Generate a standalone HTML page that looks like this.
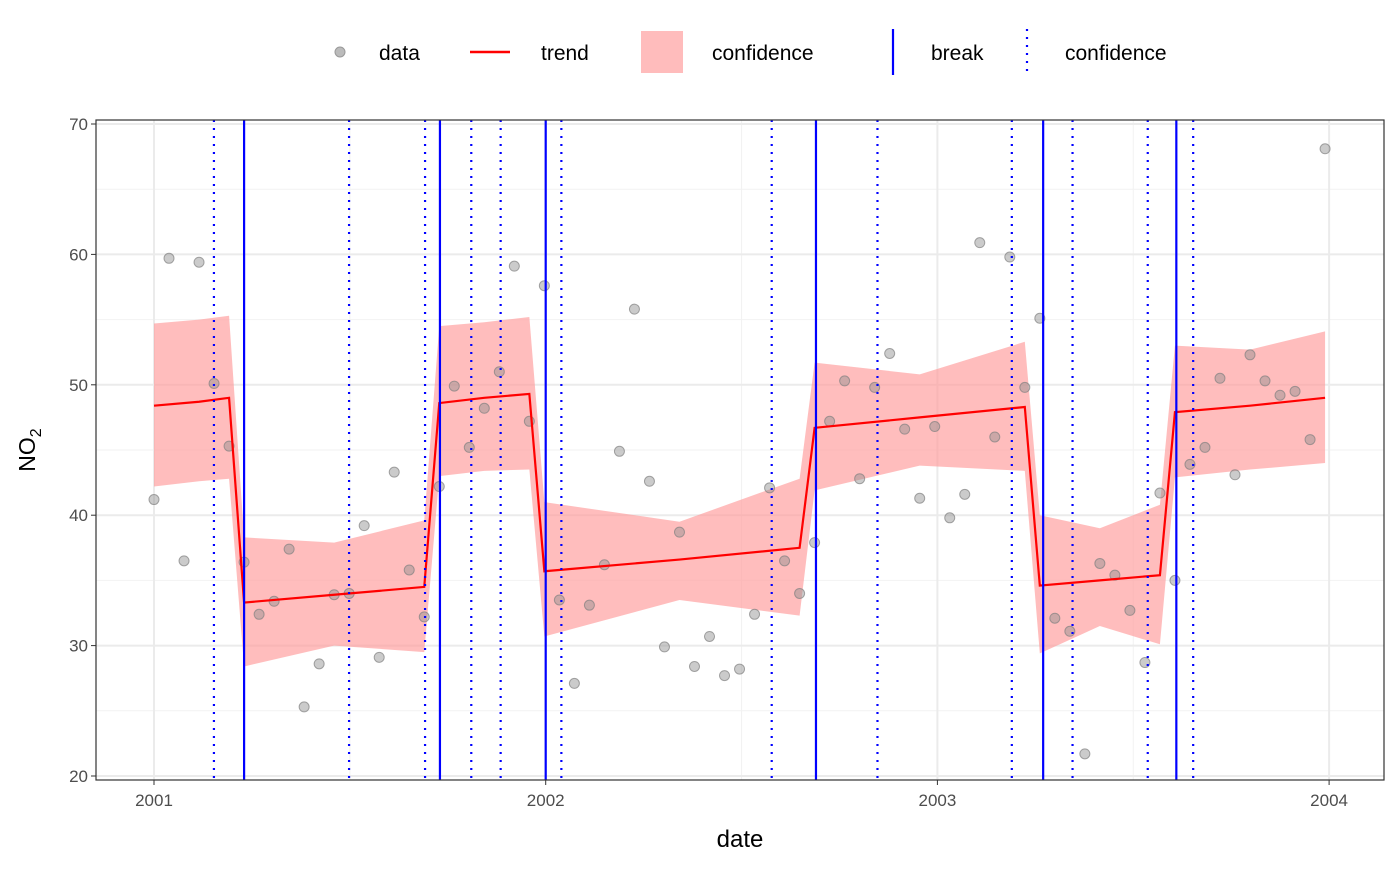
<!DOCTYPE html>
<html><head><meta charset="utf-8"><style>
body{margin:0;background:#fff;font-family:"Liberation Sans",Arial,sans-serif;}
svg text{font-family:"Liberation Sans",Arial,sans-serif;}
</style></head><body>
<svg id="chart" width="1400" height="866" xmlns="http://www.w3.org/2000/svg">
<g>
 <circle cx="340" cy="52" r="5" fill="#bbb" stroke="#999"/>
 <text x="379" y="60" font-size="21">data</text>
 <line x1="470" y1="52" x2="510" y2="52" stroke="red" stroke-width="2.5"/>
 <text x="541" y="60" font-size="21">trend</text>
 <rect x="641" y="31" width="42" height="42" fill="#ffbcbc"/>
 <text x="712" y="60" font-size="21">confidence</text>
 <line x1="893" y1="29" x2="893" y2="75" stroke="blue" stroke-width="2.2"/>
 <text x="931" y="60" font-size="21">break</text>
 <line x1="1027" y1="29" x2="1027" y2="75" stroke="blue" stroke-width="2.2" stroke-dasharray="2,6"/>
 <text x="1065" y="60" font-size="21">confidence</text>
</g>
<g id="plot"></g>
<text x="0" y="0" font-size="23" transform="translate(35,450) rotate(-90)" text-anchor="middle">NO<tspan font-size="16" dy="6">2</tspan></text>
<text x="740" y="847" font-size="24" text-anchor="middle">date</text>
</svg>
<script>
const values=[41.2,59.7,36.5,59.4,50.1,45.3,36.4,32.4,33.4,37.4,25.3,28.6,33.9,34.0,39.2,29.1,43.3,35.8,32.2,42.2,49.9,45.2,48.2,51.0,59.1,47.2,57.6,33.5,27.1,33.1,36.2,44.9,55.8,42.6,29.9,38.7,28.4,30.7,27.7,28.2,32.4,42.1,36.5,34.0,37.9,47.2,50.3,42.8,49.8,52.4,46.6,41.3,46.8,39.8,41.6,60.9,46.0,59.8,49.8,55.1,32.1,31.1,21.7,36.3,35.4,32.7,28.7,41.7,35.0,43.9,45.2,50.5,43.1,52.3,50.3,49.2,49.5,45.8,68.1];
const bandIdx=[0,3,5,6,12,18,19,22,25,26,35,43,44,51,58,59,63,67,68,73,78];
const trend=[48.4,48.7,49.0,33.3,33.9,34.5,48.6,49.0,49.3,35.7,36.6,37.5,46.7,47.5,48.3,34.6,35.0,35.4,47.9,48.4,49.0];
const upper=[54.7,55.0,55.3,38.3,37.9,39.6,54.5,54.8,55.2,41.0,39.5,42.8,51.7,50.8,53.3,40.0,39.0,40.8,53.0,52.7,54.1];
const lower=[42.2,42.6,42.8,28.4,30.0,29.5,43.0,43.4,43.5,30.7,33.5,32.3,41.9,43.8,43.4,29.4,31.5,30.1,42.9,43.5,44.0];
const breaks=[2001.23,2001.73,2002.0,2002.69,2003.27,2003.61];
const breakCI=[2001.153,2001.498,2001.692,2001.81,2001.885,2002.04,2002.577,2002.847,2003.19,2003.345,2003.537,2003.653];
const yTicks=[20,30,40,50,60,70];
const xTicks=[2001,2002,2003,2004];
const L=96,R=1384,T=120,B=780;
const X=yr=>154+(yr-2001)*391.7;
const XI=i=>X(2001+i*14/365.25);
const Y=v=>776-(v-20)*13.04;
const ns="http://www.w3.org/2000/svg",g=document.getElementById('plot');
function mk(t,a){const e=document.createElementNS(ns,t);for(const k in a)e.setAttribute(k,a[k]);g.appendChild(e);return e;}
let e=mk('rect',{x:L,y:T,width:R-L,height:B-T,fill:'#fff'});

for(let v=25;v<=65;v+=10){e=mk('line',{x1:L,x2:R,y1:Y(v),y2:Y(v),stroke:'#f2f2f2','stroke-width':1});
}
for(let yr=2001.5;yr<2004;yr+=1){e=mk('line',{x1:X(yr),x2:X(yr),y1:T,y2:B,stroke:'#f2f2f2','stroke-width':1});
}
yTicks.forEach(v=>{e=mk('line',{x1:L,x2:R,y1:Y(v),y2:Y(v),stroke:'#ebebeb','stroke-width':2});

e=mk('line',{x1:L-5,x2:L,y1:Y(v),y2:Y(v),stroke:'#333'});

e=mk('text',{x:L-8,y:Y(v)+6,'font-size':17,fill:'#4d4d4d','text-anchor':'end'});e.textContent=v;
});
xTicks.forEach(v=>{e=mk('line',{x1:X(v),x2:X(v),y1:T,y2:B,stroke:'#ebebeb','stroke-width':2});

e=mk('line',{x1:X(v),x2:X(v),y1:B,y2:B+5,stroke:'#333'});

e=mk('text',{x:X(v),y:B+26,'font-size':17,fill:'#4d4d4d','text-anchor':'middle'});e.textContent=v;
});
let pts=bandIdx.map((i,k)=>XI(i)+','+Y(upper[k]));
for(let k=bandIdx.length-1;k>=0;k--)pts.push(XI(bandIdx[k])+','+Y(lower[k]));
e=mk('polygon',{points:pts.join(' '),fill:'#ff9a9a','fill-opacity':0.65});

values.forEach((v,i)=>{e=mk('circle',{cx:XI(i),cy:Y(v),r:5,fill:'#8c8c8c','fill-opacity':0.45,stroke:'#808080','stroke-opacity':0.7});
});
e=mk('polyline',{points:bandIdx.map((i,k)=>XI(i)+','+Y(trend[k])).join(' '),fill:'none',stroke:'red','stroke-width':2.2});

breakCI.forEach(b=>{e=mk('line',{x1:X(b),x2:X(b),y1:T,y2:B,stroke:'blue','stroke-width':2.2,'stroke-dasharray':'2,6'});
});
breaks.forEach(b=>{e=mk('line',{x1:X(b),x2:X(b),y1:T,y2:B,stroke:'blue','stroke-width':2.2});
});
e=mk('rect',{x:L,y:T,width:R-L,height:B-T,fill:'none',stroke:'#333','stroke-width':1.2});

</script>
</body></html>
